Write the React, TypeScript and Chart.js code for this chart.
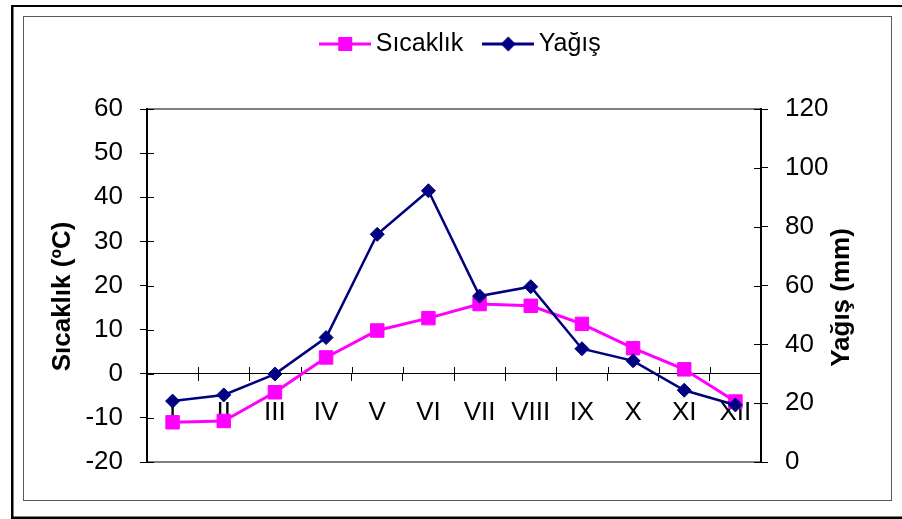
import React, { useEffect, useRef } from 'react';
import { Chart, registerables } from 'chart.js';

Chart.register(...registerables);

// ---- data ----
const months = ['I', 'II', 'III', 'IV', 'V', 'VI', 'VII', 'VIII', 'IX', 'X', 'XI', 'XII'];
const temperature = [-11.0, -10.7, -4.2, 3.7, 9.8, 12.6, 15.8, 15.4, 11.3, 5.8, 1.0, -6.3];
const precipitation = [20.7, 22.8, 29.9, 42.3, 77.4, 92.2, 56.4, 59.6, 38.5, 34.4, 24.4, 19.4];
const seriesNames = ['Sıcaklık', 'Yağış'];
const axisTitles = ['Sıcaklık (ºC)', 'Yağış (mm)'];
const tempAxis = [-20, 60, 10];
const rainAxis = [0, 120, 20];

const FONT = '"Liberation Sans", Arial, Helvetica, sans-serif';
const TEMP_COLOR = '#FF00FF';
const RAIN_COLOR = '#000080';
const TICK_SIZE = 26;
const LEGEND_SIZE = 25;
const TITLE_SIZE = 26;
const TICK_LEN = 7;

function legendIcon(color: string, kind: 'square' | 'diamond'): HTMLCanvasElement {
  const c = document.createElement('canvas');
  c.width = 52;
  c.height = 18;
  const g = c.getContext('2d')!;
  g.strokeStyle = color;
  g.lineWidth = 3;
  g.beginPath();
  g.moveTo(0, 9);
  g.lineTo(52, 9);
  g.stroke();
  g.fillStyle = color;
  if (kind === 'square') {
    g.fillRect(19, 2, 14, 14);
  } else {
    g.beginPath();
    g.moveTo(26, 1.5);
    g.lineTo(33.5, 9);
    g.lineTo(26, 16.5);
    g.lineTo(18.5, 9);
    g.closePath();
    g.fill();
  }
  return c;
}

const decorPlugin = {
  id: 'decor',
  beforeDraw(chart: any) {
    const { ctx, chartArea: a, width } = chart;
    ctx.save();
    ctx.fillStyle = '#ffffff';
    ctx.fillRect(0, 0, chart.width, chart.height);
    // outer black frame
    ctx.fillStyle = '#000000';
    ctx.fillRect(11, 5, width - 11, 2);
    ctx.fillRect(11, 5, 2.5, 514);
    ctx.fillRect(11, 516.5, width - 11, 2.5);
    // inner frame
    ctx.strokeStyle = '#5a5a5a';
    ctx.lineWidth = 1;
    ctx.strokeRect(23.5, 16.5, 868, 484);
    // plot area frame
    ctx.strokeStyle = '#808080';
    ctx.lineWidth = 2;
    ctx.strokeRect(a.left, a.top, a.right - a.left, a.bottom - a.top);
    ctx.restore();
  },
};

// inner halves of the "cross" tick marks
const crossTicksPlugin = {
  id: 'crossTicks',
  beforeDatasetsDraw(chart: any) {
    const { ctx, scales } = chart;
    const x = scales.x;
    const y = scales.y;
    const y1 = scales.y1;
    ctx.save();
    ctx.strokeStyle = '#000000';
    ctx.lineWidth = 1;
    ctx.beginPath();
    y.ticks.forEach((t: any) => {
      const py = Math.round(y.getPixelForValue(t.value)) + 0.5;
      ctx.moveTo(y.right, py);
      ctx.lineTo(y.right + TICK_LEN, py);
    });
    y1.ticks.forEach((t: any) => {
      const py = Math.round(y1.getPixelForValue(t.value)) + 0.5;
      ctx.moveTo(y1.left - TICK_LEN, py);
      ctx.lineTo(y1.left, py);
    });
    const zeroY = Math.round(y.getPixelForValue(0));
    const n = months.length;
    for (let i = 1; i < n; i++) {
      const px = Math.round((x.getPixelForValue(i - 1) + x.getPixelForValue(i)) / 2) + 0.5;
      ctx.moveTo(px, zeroY - TICK_LEN);
      ctx.lineTo(px, zeroY);
    }
    ctx.stroke();
    ctx.restore();
  },
};

const titlesPlugin = {
  id: 'axisTitles',
  afterDraw(chart: any) {
    const { ctx, chartArea: a } = chart;
    const midY = (a.top + a.bottom) / 2;
    ctx.save();
    ctx.font = `bold ${TITLE_SIZE}px ${FONT}`;
    ctx.fillStyle = '#000000';
    ctx.textAlign = 'center';
    ctx.textBaseline = 'middle';
    ctx.save();
    ctx.translate(a.left - 84, midY + 11);
    ctx.rotate(-Math.PI / 2);
    ctx.fillText(axisTitles[0], 0, 0);
    ctx.restore();
    ctx.save();
    ctx.translate(a.right + 81, midY + 12);
    ctx.rotate(-Math.PI / 2);
    ctx.fillText(axisTitles[1], 0, 0);
    ctx.restore();
    ctx.restore();
  },
};

const PAD_TOP = 4.5;
const PLOT_TOP = 109;

const legendSpacer = {
  id: 'legendSpacer',
  beforeLayout(chart: any) {
    const lg = chart.legend;
    if (lg && !lg._spaced) {
      const fit = lg.fit.bind(lg);
      lg.fit = function () {
        fit();
        this.height = PLOT_TOP - PAD_TOP;
      };
      lg._spaced = true;
    }
  },
};

export default function App() {
  const ref = useRef<HTMLCanvasElement | null>(null);

  useEffect(() => {
    document.body.style.margin = '0';
    const canvas = ref.current;
    if (!canvas) return;
    const icons = [legendIcon(TEMP_COLOR, 'square'), legendIcon(RAIN_COLOR, 'diamond')];
    const tickFont = { family: FONT, size: TICK_SIZE };

    const chart = new Chart(canvas, {
      type: 'line',
      data: {
        labels: months,
        datasets: [
          {
            label: seriesNames[0],
            data: temperature,
            yAxisID: 'y',
            borderColor: TEMP_COLOR,
            backgroundColor: TEMP_COLOR,
            borderWidth: 3,
            pointStyle: 'rect',
            pointRadius: 9.5,
            pointBorderWidth: 1,
            pointBackgroundColor: TEMP_COLOR,
            pointBorderColor: TEMP_COLOR,
            tension: 0,
            order: 1,
          },
          {
            label: seriesNames[1],
            data: precipitation,
            yAxisID: 'y1',
            borderColor: RAIN_COLOR,
            backgroundColor: RAIN_COLOR,
            borderWidth: 2.5,
            pointStyle: 'rectRot',
            pointRadius: 7,
            pointBorderWidth: 1,
            pointBackgroundColor: RAIN_COLOR,
            pointBorderColor: RAIN_COLOR,
            tension: 0,
            order: 0,
          },
        ],
      },
      options: {
        responsive: false,
        animation: false,
        devicePixelRatio: 1,
        layout: { padding: { left: 37, right: 11, top: PAD_TOP, bottom: 57 } },
        plugins: {
          tooltip: { enabled: false },
          legend: {
            position: 'top',
            align: 'center',
            labels: {
              usePointStyle: true,
              pointStyleWidth: 36,
              padding: 27,
              color: '#000000',
              font: { family: FONT, size: LEGEND_SIZE },
              generateLabels: (c: any) => {
                const items = (Chart.defaults.plugins.legend.labels as any).generateLabels(c);
                return items
                  .sort((p: any, q: any) => p.datasetIndex - q.datasetIndex)
                  .map((it: any) => ({ ...it, pointStyle: icons[it.datasetIndex] }));
              },
            },
          },
        },
        scales: {
          x: {
            type: 'category',
            position: { y: 0 } as any,
            offset: true,
            grid: {
              display: true,
              drawOnChartArea: false,
              drawTicks: true,
              tickLength: TICK_LEN,
              offset: true,
              color: '#000000',
              lineWidth: 1,
            },
            border: { display: true, color: '#000000', width: 1 },
            ticks: { font: tickFont, color: '#000000', padding: 16, maxRotation: 0, autoSkip: false },
          },
          y: {
            type: 'linear',
            position: 'left',
            min: tempAxis[0],
            max: tempAxis[1],
            ticks: { stepSize: tempAxis[2], font: tickFont, color: '#000000', padding: 17 },
            grid: { drawOnChartArea: false, drawTicks: true, tickLength: TICK_LEN, color: '#000000', lineWidth: 1 },
            border: { display: true, color: '#000000', width: 2 },
            afterFit: (s: any) => {
              s.width = 110;
            },
          },
          y1: {
            type: 'linear',
            position: 'right',
            min: rainAxis[0],
            max: rainAxis[1],
            ticks: { stepSize: rainAxis[2], font: tickFont, color: '#000000', padding: 17 },
            grid: { drawOnChartArea: false, drawTicks: true, tickLength: TICK_LEN, color: '#000000', lineWidth: 1 },
            border: { display: true, color: '#000000', width: 2 },
            afterFit: (s: any) => {
              s.width = 130;
            },
          },
        },
      },
      plugins: [decorPlugin, crossTicksPlugin, titlesPlugin, legendSpacer],
    } as any);

    return () => chart.destroy();
  }, []);

  return (
    <div style={{ position: 'absolute', left: 0, top: 0, width: 902, height: 519 }}>
      <canvas ref={ref} width={902} height={519} style={{ display: 'block' }} />
    </div>
  );
}
